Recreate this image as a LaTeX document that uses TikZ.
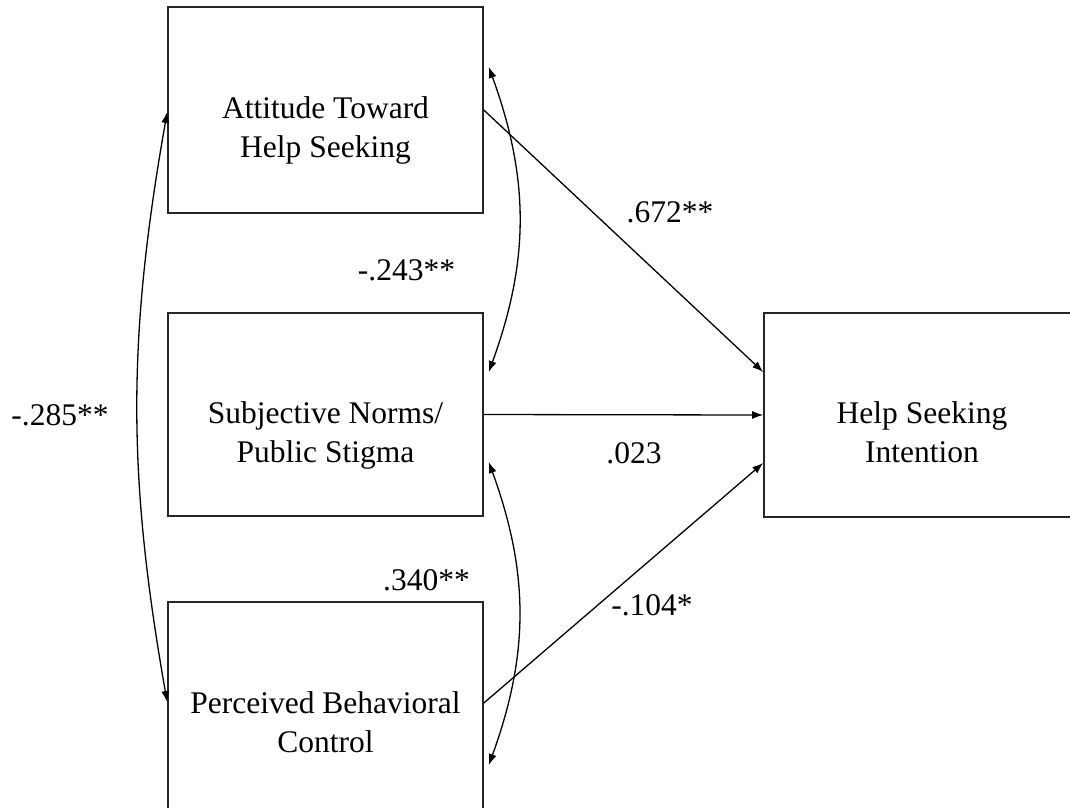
\documentclass[tikz,border=0pt]{standalone}
\usepackage{fontspec}
\setmainfont{Liberation Serif}
\usetikzlibrary{arrows.meta}
\begin{document}
\begin{tikzpicture}[x=1pt,y=-1pt,
  box/.style={draw=black!85, line width=1.6pt, rectangle, minimum width=315pt,
              minimum height=204pt, inner sep=0pt},
  boxtext/.style={font=\fontsize{31.5}{39}\selectfont, align=center, inner sep=0pt},
  coef/.style={font=\fontsize{31.5}{39}\selectfont, inner sep=0pt, anchor=base},
  tip/.tip={Latex[length=11pt,width=8pt]},
  link/.style={line width=1.3pt, -tip},
  cov/.style={line width=1.3pt, tip-tip},
]
\clip (0,0) rectangle (1070,807);

% predictor and outcome boxes
\node[box, minimum height=206pt] (att) at (325.5,110) {};
\node[box, minimum height=203pt] (sub) at (325.5,414.5) {};
\node[box, minimum height=214pt] (per) at (325.5,709) {};
\node[box, minimum width=316pt] (hsi) at (922,415) {};

% box captions
\node[boxtext] (atttxt) at (325.5,129.7) {\strut Attitude Toward\\Help Seeking\strut};
\node[boxtext] (subtxt) at (325.5,434.7) {\strut Subjective Norms/\\Public Stigma\strut};
\node[boxtext] (pertxt) at (325.5,724.7) {\strut Perceived Behavioral\\Control\strut};
\node[boxtext] (hsitxt) at (922,434.7) {\strut Help Seeking\\Intention\strut};

% regression paths
\draw[link] (att.east) -- ([yshift=43pt]hsi.west);
\draw[link] (sub.east) -- (hsi.west);
\draw[link] ([yshift=6pt]per.east) -- ([yshift=-48pt]hsi.west);

% correlations between predictors
\draw[cov] ([xshift=5pt,yshift=43pt]att.east) to[bend left=20] ([xshift=5pt,yshift=42.5pt]sub.east);
\draw[cov] ([xshift=5pt,yshift=-47.5pt]sub.east) to[bend left=20] ([xshift=5pt,yshift=-56pt]per.east);
\draw[cov] ([yshift=-2pt]att.west) to[bend right=10] ([yshift=7pt]per.west);

% coefficients
\node[coef] (c1) at (670,222) {.672**};
\node[coef] (c2) at (406.5,280) {-.243**};
\node[coef] (c3) at (60,425) {-.285**};
\node[coef] (c4) at (634,463) {.023};
\node[coef] (c5) at (426.5,590) {.340**};
\node[coef] (c6) at (652,615) {-.104*};
\end{tikzpicture}
\end{document}
